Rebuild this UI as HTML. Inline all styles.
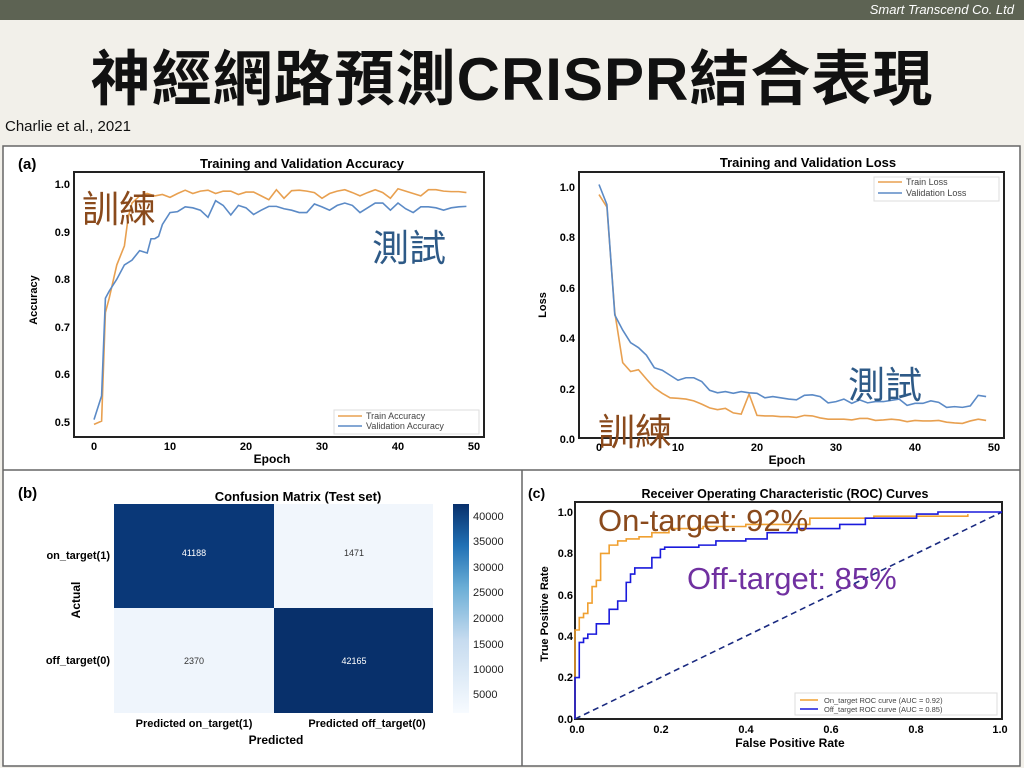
<!DOCTYPE html>
<html><head><meta charset="utf-8"><style>
body{margin:0;width:1024px;height:768px;background:#f2f0ea;position:relative;overflow:hidden;font-family:"Liberation Sans","Noto Sans CJK TC",sans-serif}
.bar{position:absolute;left:0;top:0;width:1024px;height:20px;background:#5d6353}
.bar span{position:absolute;right:10px;top:2px;color:#fff;font-style:italic;font-size:13px}
.title{position:absolute;left:0;width:1024px;top:40px;text-align:center;font-size:60px;font-weight:bold;color:#111;font-family:"Liberation Sans","Noto Sans CJK TC",sans-serif;line-height:80px;letter-spacing:1px}
.cite{position:absolute;left:5px;top:118px;font-size:15px;color:#111}
svg{position:absolute;left:0;top:0}
</style></head><body>
<div class="bar"><span>Smart Transcend Co. Ltd</span></div>
<div class="title">神經網路預測CRISPR結合表現</div>
<div class="cite">Charlie et al., 2021</div>
<svg width="1024" height="768" font-family="Liberation Sans, Noto Sans CJK TC, sans-serif">
<rect x="3" y="146" width="1017" height="620" fill="#fff" stroke="#666" stroke-width="1.5"/>
<line x1="3" y1="470" x2="1020" y2="470" stroke="#666" stroke-width="1.5"/>
<line x1="522" y1="470" x2="522" y2="766" stroke="#666" stroke-width="1.5"/>

<!-- Accuracy -->
<text x="18" y="169" font-size="15" font-weight="bold">(a)</text>
<text x="302" y="168" font-size="13" font-weight="bold" text-anchor="middle">Training and Validation Accuracy</text>
<rect x="74" y="172" width="410" height="265" fill="none" stroke="#222" stroke-width="2"/>
<g font-size="11" font-weight="bold" text-anchor="end">
<text x="70" y="188">1.0</text><text x="70" y="236">0.9</text><text x="70" y="283">0.8</text><text x="70" y="331">0.7</text><text x="70" y="378">0.6</text><text x="70" y="426">0.5</text>
</g>
<g font-size="11" font-weight="bold" text-anchor="middle">
<text x="94" y="450">0</text><text x="170" y="450">10</text><text x="246" y="450">20</text><text x="322" y="450">30</text><text x="398" y="450">40</text><text x="474" y="450">50</text>
<text x="272" y="463" font-size="12">Epoch</text>
</g>
<text transform="translate(37,300) rotate(-90)" font-size="11" font-weight="bold" text-anchor="middle">Accuracy</text>
<g transform="translate(94,660) scale(7.6,-476)" fill="none">
<polyline vector-effect="non-scaling-stroke" stroke="#e8a050" stroke-width="1.6" points="0,0.495 1,0.502 1.5,0.73 2,0.76 3,0.83 4,0.87 4.5,0.93 5,0.96 6,0.975 7,0.98 8,0.975 9,0.978 10,0.972 11,0.98 12,0.987 13,0.98 14,0.985 15,0.987 16,0.98 17,0.985 18,0.985 19,0.978 20,0.983 21,0.983 22,0.975 23,0.967 24,0.988 25,0.97 26,0.986 27,0.987 28,0.985 29,0.982 30,0.97 31,0.98 32,0.985 33,0.988 34,0.982 35,0.975 36,0.982 37,0.988 38,0.982 39,0.97 40,0.99 41,0.985 42,0.98 43,0.975 44,0.988 45,0.988 46,0.985 47,0.984 48,0.984 49,0.982"/>
<polyline vector-effect="non-scaling-stroke" stroke="#5b8ac6" stroke-width="1.6" points="0,0.505 1,0.555 1.5,0.76 2,0.775 3,0.8 4,0.83 5,0.84 6,0.86 7,0.855 7.5,0.885 8,0.885 8.5,0.89 9,0.915 10,0.94 11,0.942 12,0.952 13,0.95 14,0.945 15,0.93 16,0.965 17,0.955 18,0.935 19,0.955 20,0.95 21,0.936 22,0.945 23,0.953 24,0.953 25,0.948 26,0.945 27,0.94 28,0.94 29,0.958 30,0.952 31,0.945 32,0.955 33,0.96 34,0.955 35,0.94 36,0.95 37,0.96 38,0.96 39,0.945 40,0.96 41,0.948 42,0.94 43,0.952 44,0.952 45,0.95 46,0.945 47,0.95 48,0.952 49,0.953"/>
</g>
<rect x="334" y="410" width="145" height="24" fill="#fff" stroke="#ddd"/>
<line x1="338" y1="416" x2="362" y2="416" stroke="#e8a050" stroke-width="1.5"/><text x="366" y="419" font-size="9" fill="#444">Train Accuracy</text>
<line x1="338" y1="426" x2="362" y2="426" stroke="#5b8ac6" stroke-width="1.5"/><text x="366" y="429" font-size="9" fill="#444">Validation  Accuracy</text>
<text x="82" y="222" font-size="37" fill="#8a4a1c">訓練</text>
<text x="372" y="261" font-size="37" fill="#2e5a87">測試</text>

<!-- Loss -->
<text x="808" y="167" font-size="13" font-weight="bold" text-anchor="middle">Training and Validation Loss</text>
<rect x="579" y="172" width="425" height="266" fill="none" stroke="#222" stroke-width="2"/>
<g font-size="11" font-weight="bold" text-anchor="end">
<text x="575" y="191">1.0</text><text x="575" y="241">0.8</text><text x="575" y="292">0.6</text><text x="575" y="342">0.4</text><text x="575" y="393">0.2</text><text x="575" y="443">0.0</text>
</g>
<g font-size="11" font-weight="bold" text-anchor="middle">
<text x="599" y="451">0</text><text x="678" y="451">10</text><text x="757" y="451">20</text><text x="836" y="451">30</text><text x="915" y="451">40</text><text x="994" y="451">50</text>
<text x="787" y="464" font-size="12">Epoch</text>
</g>
<text transform="translate(546,305) rotate(-90)" font-size="11" font-weight="bold" text-anchor="middle">Loss</text>
<g transform="translate(599,438) scale(7.9,-251)" fill="none">
<polyline vector-effect="non-scaling-stroke" stroke="#e8a050" stroke-width="1.6" points="0,0.97 1,0.92 2,0.5 3,0.3 4,0.265 5,0.272 6,0.235 7,0.2 8,0.178 9,0.16 10,0.158 11,0.155 12,0.148 13,0.135 14,0.12 15,0.113 16,0.118 17,0.1 18,0.095 19,0.175 20,0.09 21,0.088 22,0.088 23,0.085 24,0.085 25,0.082 26,0.09 27,0.088 28,0.08 29,0.075 30,0.075 31,0.075 32,0.072 33,0.078 34,0.078 35,0.07 36,0.072 37,0.075 38,0.072 39,0.065 40,0.07 41,0.068 42,0.068 43,0.07 44,0.063 45,0.06 46,0.058 47,0.068 48,0.075 49,0.07"/>
<polyline vector-effect="non-scaling-stroke" stroke="#5b8ac6" stroke-width="1.6" points="0,1.01 1,0.93 2,0.49 3,0.43 4,0.38 5,0.36 6,0.33 7,0.28 8,0.27 9,0.25 10,0.23 11,0.24 12,0.24 13,0.225 14,0.19 15,0.18 16,0.185 17,0.178 18,0.185 19,0.18 20,0.178 21,0.16 22,0.165 23,0.16 24,0.155 25,0.152 26,0.17 27,0.172 28,0.165 29,0.14 30,0.145 31,0.155 32,0.138 33,0.152 34,0.14 35,0.145 36,0.145 37,0.15 38,0.155 39,0.13 40,0.138 41,0.138 42,0.148 43,0.142 44,0.122 45,0.125 46,0.122 47,0.128 48,0.17 49,0.165"/>
</g>
<rect x="874" y="177" width="125" height="24" fill="#fff" stroke="#ddd"/>
<line x1="878" y1="182" x2="902" y2="182" stroke="#e8a050" stroke-width="1.5"/><text x="906" y="185" font-size="9" fill="#444">Train Loss</text>
<line x1="878" y1="193" x2="902" y2="193" stroke="#5b8ac6" stroke-width="1.5"/><text x="906" y="196" font-size="9" fill="#444">Validation  Loss</text>
<text x="848" y="398" font-size="37" fill="#2e5a87">測試</text>
<text x="598" y="445" font-size="37" fill="#8a4a1c">訓練</text>

<!-- Confusion -->
<text x="18" y="498" font-size="15" font-weight="bold">(b)</text>
<text x="298" y="501" font-size="13" font-weight="bold" text-anchor="middle">Confusion Matrix (Test set)</text>
<rect x="114" y="504" width="160" height="104" fill="#0a3878"/>
<rect x="274" y="504" width="159" height="104" fill="#f1f6fc"/>
<rect x="114" y="608" width="160" height="105" fill="#eff5fc"/>
<rect x="274" y="608" width="159" height="105" fill="#08306b"/>
<g font-size="9" text-anchor="middle">
<text x="194" y="556" fill="#fff">41188</text>
<text x="354" y="556" fill="#333">1471</text>
<text x="194" y="664" fill="#333">2370</text>
<text x="354" y="664" fill="#fff">42165</text>
</g>
<g font-size="11" font-weight="bold" text-anchor="end">
<text x="110" y="559">on_target(1)</text><text x="110" y="664">off_target(0)</text>
</g>
<text transform="translate(80,600) rotate(-90)" font-size="12" font-weight="bold" text-anchor="middle">Actual</text>
<g font-size="11" font-weight="bold" text-anchor="middle">
<text x="194" y="727">Predicted on_target(1)</text><text x="367" y="727">Predicted off_target(0)</text>
<text x="276" y="744" font-size="12">Predicted</text>
</g>
<defs><linearGradient id="cb" x1="0" y1="1" x2="0" y2="0">
<stop offset="0" stop-color="#f7fbff"/><stop offset="0.35" stop-color="#c6dbef"/><stop offset="0.6" stop-color="#6baed6"/><stop offset="0.8" stop-color="#2171b5"/><stop offset="1" stop-color="#08306b"/></linearGradient></defs>
<rect x="453" y="504" width="16" height="209" fill="url(#cb)"/>
<g font-size="11" fill="#222">
<text x="473" y="520">40000</text><text x="473" y="545">35000</text><text x="473" y="571">30000</text><text x="473" y="596">25000</text><text x="473" y="622">20000</text><text x="473" y="648">15000</text><text x="473" y="673">10000</text><text x="473" y="698">5000</text>
</g>

<!-- ROC -->
<text x="528" y="498" font-size="14" font-weight="bold">(c)</text>
<text x="785" y="498" font-size="12.5" font-weight="bold" text-anchor="middle">Receiver Operating Characteristic (ROC) Curves</text>
<rect x="575" y="502" width="427" height="217" fill="none" stroke="#222" stroke-width="2"/>
<g font-size="11" font-weight="bold" text-anchor="end">
<text x="573" y="516">1.0</text><text x="573" y="557">0.8</text><text x="573" y="599">0.6</text><text x="573" y="640">0.4</text><text x="573" y="681">0.2</text><text x="573" y="723">0.0</text>
</g>
<g font-size="11" font-weight="bold" text-anchor="middle">
<text x="577" y="733">0.0</text><text x="661" y="733">0.2</text><text x="746" y="733">0.4</text><text x="831" y="733">0.6</text><text x="916" y="733">0.8</text><text x="1000" y="733">1.0</text>
<text x="790" y="747" font-size="12">False Positive Rate</text>
</g>
<text transform="translate(548,614) rotate(-90)" font-size="11" font-weight="bold" text-anchor="middle">True Positive Rate</text>
<line x1="575" y1="719" x2="1002" y2="512" stroke="#1a2a80" stroke-width="1.6" stroke-dasharray="6,4"/>
<g transform="translate(575,719) scale(427,-207)" fill="none">
<polyline vector-effect="non-scaling-stroke" stroke="#f0a030" stroke-width="1.6" points="0,0 0,0.43 0.01,0.43 0.01,0.49 0.02,0.49 0.02,0.51 0.03,0.51 0.03,0.56 0.04,0.56 0.04,0.64 0.05,0.64 0.05,0.67 0.06,0.67 0.06,0.8 0.08,0.8 0.08,0.84 0.1,0.84 0.1,0.86 0.12,0.86 0.12,0.87 0.15,0.87 0.15,0.88 0.18,0.88 0.18,0.9 0.22,0.9 0.22,0.92 0.3,0.92 0.3,0.93 0.4,0.93 0.4,0.94 0.55,0.94 0.55,0.97 0.7,0.97 0.7,0.98 0.92,0.98 0.92,0.99"/>
<polyline vector-effect="non-scaling-stroke" stroke="#1a1adc" stroke-width="1.6" points="0,0 0,0.2 0.01,0.2 0.01,0.37 0.02,0.37 0.02,0.39 0.03,0.39 0.03,0.41 0.05,0.41 0.05,0.46 0.08,0.46 0.08,0.53 0.1,0.53 0.1,0.57 0.12,0.57 0.12,0.66 0.13,0.66 0.13,0.7 0.14,0.7 0.14,0.73 0.18,0.73 0.18,0.78 0.2,0.78 0.2,0.82 0.21,0.82 0.21,0.83 0.29,0.83 0.29,0.84 0.33,0.84 0.33,0.86 0.4,0.86 0.4,0.87 0.45,0.87 0.45,0.9 0.52,0.9 0.52,0.92 0.62,0.92 0.62,0.94 0.68,0.94 0.68,0.97 0.8,0.97 0.8,0.99 0.85,0.99 0.85,1 1,1"/>
</g>
<rect x="795" y="693" width="202" height="22" fill="#fff" stroke="#ddd"/>
<line x1="800" y1="700" x2="818" y2="700" stroke="#f0a030" stroke-width="1.5"/><text x="824" y="703" font-size="7.5" fill="#444">On_target ROC curve (AUC = 0.92)</text>
<line x1="800" y1="709" x2="818" y2="709" stroke="#1a1adc" stroke-width="1.5"/><text x="824" y="712" font-size="7.5" fill="#444">Off_target ROC curve (AUC  = 0.85)</text>
<text x="598" y="531" font-size="31" fill="#8a4a1c">On-target: 92%</text>
<text x="687" y="589" font-size="31" fill="#7030a0">Off-target: 85%</text>
</svg>
</body></html>
